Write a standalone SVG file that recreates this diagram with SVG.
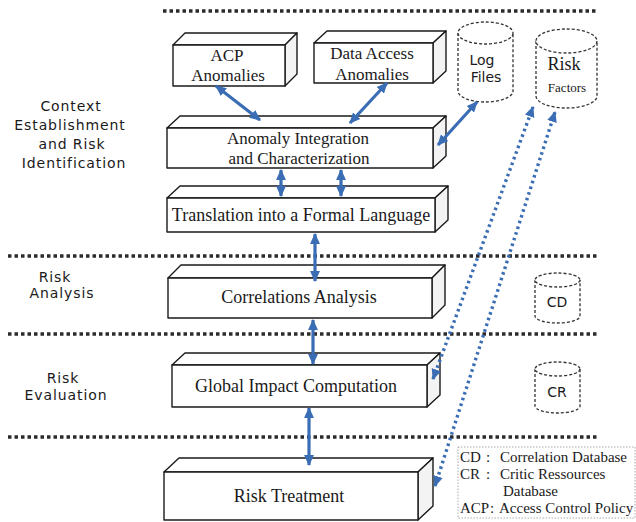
<svg xmlns="http://www.w3.org/2000/svg" width="636" height="522" viewBox="0 0 636 522">
<defs>
<style>
.sep{stroke:#2b2b2b;stroke-width:3.5;stroke-dasharray:3.5 3;fill:none}
.face{fill:#fff;stroke:#1a1a1a;stroke-width:1.4;stroke-linejoin:round}
.side{fill:#f3f3f3;stroke:#1a1a1a;stroke-width:1.4;stroke-linejoin:round}
.bt{font-family:"Liberation Serif","Times New Roman",serif;font-size:18px;fill:#1a1a1a;text-anchor:middle}
.bt2{font-family:"Liberation Serif","Times New Roman",serif;font-size:17px;fill:#1a1a1a;text-anchor:middle}
.lbl{font-family:"DejaVu Sans",sans-serif;font-size:14px;letter-spacing:0.9px;fill:#1a1a1a;text-anchor:middle}
.cyl{fill:#fff;stroke:#333;stroke-width:1.3;stroke-dasharray:3 2}
.ct{font-family:"DejaVu Sans",sans-serif;font-size:14px;fill:#1a1a1a;text-anchor:middle}
.lg{font-family:"Liberation Serif","Times New Roman",serif;font-size:15px;fill:#1a1a1a}
.arr{stroke:#3a6db4;stroke-width:3.2;fill:none;marker-start:url(#ah);marker-end:url(#ah)}
.darr{stroke:#3a6db4;stroke-width:3.4;stroke-dasharray:2.6 3.4;fill:none;marker-start:url(#ah2);marker-end:url(#ah2)}
</style>
<marker id="ah" viewBox="0 0 10 10" refX="9" refY="5" markerWidth="11" markerHeight="11" markerUnits="userSpaceOnUse" orient="auto-start-reverse">
<path d="M0,0.5 L10,5 L0,9.5 z" fill="#3a6db4"/>
</marker>
<marker id="ah2" viewBox="0 0 10 10" refX="9" refY="5" markerWidth="11" markerHeight="11" markerUnits="userSpaceOnUse" orient="auto-start-reverse">
<path d="M0,0.5 L10,5 L0,9.5 z" fill="#3a6db4"/>
</marker>
</defs>
<rect width="636" height="522" fill="#fff"/>

<g id="separators">
<line class="sep" x1="163" y1="11" x2="597" y2="11"/>
<line class="sep" x1="8" y1="256" x2="597" y2="256"/>
<line class="sep" x1="8" y1="334" x2="597" y2="334"/>
<line class="sep" x1="8" y1="437" x2="597" y2="437"/>
</g>

<g id="phase-labels">
<text class="lbl" x="71" y="111">Context</text>
<text class="lbl" x="70" y="130">Establishment</text>
<text class="lbl" x="72" y="149">and Risk</text>
<text class="lbl" x="74" y="168">Identification</text>
<text class="lbl" x="55" y="282">Risk</text>
<text class="lbl" x="62" y="298">Analysis</text>
<text class="lbl" x="63" y="383">Risk</text>
<text class="lbl" x="66" y="400">Evaluation</text>
</g>

<g id="acp-anomalies">
<polygon class="face" points="173,45 185,33 297,33 285,45"/>
<polygon class="side" points="285,45 297,33 297,74 285,86"/>
<rect class="face" x="173" y="45" width="112" height="41"/>
<text class="bt2" x="227" y="61">ACP</text>
<text class="bt2" x="228" y="81">Anomalies</text>
</g>

<g id="data-access-anomalies">
<polygon class="face" points="314,43 327,31 446,31 433,43"/>
<polygon class="side" points="433,43 446,31 446,71 433,83"/>
<rect class="face" x="314" y="43" width="119" height="40"/>
<text class="bt2" x="372" y="59">Data Access</text>
<text class="bt2" x="372" y="80">Anomalies</text>
</g>

<g id="log-files">
<path class="cyl" d="M458,33 L458,91 A27.5,11 0 0 0 513,91 L513,33"/>
<ellipse class="cyl" cx="485.5" cy="33" rx="27.5" ry="11"/>
<text class="ct" x="482" y="65">Log</text>
<text class="ct" x="486" y="82">Files</text>
</g>

<g id="risk-factors">
<path class="cyl" d="M536,41 L536,96 A30.5,12 0 0 0 597,96 L597,41"/>
<ellipse class="cyl" cx="566.5" cy="41" rx="30.5" ry="12"/>
<text class="bt" x="564" y="70">Risk</text>
<text class="bt" x="567" y="92" style="font-size:13px">Factors</text>
</g>

<g id="anomaly-integration">
<polygon class="face" points="167,128 180,116 446,116 433,128"/>
<polygon class="side" points="433,128 446,116 446,156 433,168"/>
<rect class="face" x="167" y="128" width="266" height="40"/>
<text class="bt2" x="298" y="144">Anomaly Integration</text>
<text class="bt2" x="299" y="164">and Characterization</text>
</g>

<g id="translation">
<polygon class="face" points="167,198 180,186 448,186 435,198"/>
<polygon class="side" points="435,198 448,186 448,220 435,232"/>
<rect class="face" x="167" y="198" width="268" height="34"/>
<text class="bt" x="301" y="221">Translation into a Formal Language</text>
</g>

<g id="correlations-analysis">
<polygon class="face" points="168,278 181,265 445,265 432,278"/>
<polygon class="side" points="432,278 445,265 445,305 432,318"/>
<rect class="face" x="168" y="278" width="264" height="40"/>
<text class="bt" x="299" y="303">Correlations Analysis</text>
</g>

<g id="cd">
<path class="cyl" d="M535,280 L535,316 A22.5,7 0 0 0 580,316 L580,280"/>
<ellipse class="cyl" cx="557.5" cy="280" rx="22.5" ry="7"/>
<text class="ct" x="557" y="307">CD</text>
</g>

<g id="global-impact">
<polygon class="face" points="172,365 185,353 440,353 427,365"/>
<polygon class="side" points="427,365 440,353 440,395 427,407"/>
<rect class="face" x="172" y="365" width="255" height="42"/>
<text class="bt" x="296" y="392">Global Impact Computation</text>
</g>

<g id="cr">
<path class="cyl" d="M535,369 L535,406 A22.5,7 0 0 0 580,406 L580,369"/>
<ellipse class="cyl" cx="557.5" cy="369" rx="22.5" ry="7"/>
<text class="ct" x="557" y="397">CR</text>
</g>

<g id="risk-treatment">
<polygon class="face" points="164,472 179,458 433,458 418,472"/>
<polygon class="side" points="418,472 433,458 433,506 418,520"/>
<rect class="face" x="164" y="472" width="254" height="48"/>
<text class="bt" x="289" y="502">Risk Treatment</text>
</g>

<g id="legend">
<rect x="458" y="447" width="177" height="71" fill="none" stroke="#aaa" stroke-width="1" stroke-dasharray="1.5 1.5"/>
<text class="lg" x="460" y="462">CD</text><text class="lg" x="486" y="462">:</text><text class="lg" x="500" y="462">Correlation Database</text>
<text class="lg" x="460" y="479">CR</text><text class="lg" x="486" y="479">:</text><text class="lg" x="500" y="479">Critic Ressources</text>
<text class="lg" x="503" y="496">Database</text>
<text class="lg" x="460" y="513">ACP</text><text class="lg" x="490" y="513">:</text><text class="lg" x="499" y="513">Access Control Policy</text>
</g>

<g id="connectors">
<line class="arr" x1="216" y1="86" x2="260" y2="120"/>
<line class="arr" x1="387" y1="83" x2="350" y2="123"/>
<line class="arr" x1="477" y1="102" x2="438" y2="145"/>
<line class="arr" x1="281" y1="170" x2="281" y2="196"/>
<line class="arr" x1="341" y1="170" x2="341" y2="196"/>
<line class="arr" x1="315" y1="234" x2="315" y2="281"/>
<line class="arr" x1="313" y1="320" x2="313" y2="364"/>
<line class="arr" x1="309" y1="408" x2="309" y2="465"/>
<line class="darr" x1="433" y1="379" x2="533" y2="107"/>
<line class="darr" x1="435" y1="486" x2="555" y2="112"/>
</g>
</svg>
